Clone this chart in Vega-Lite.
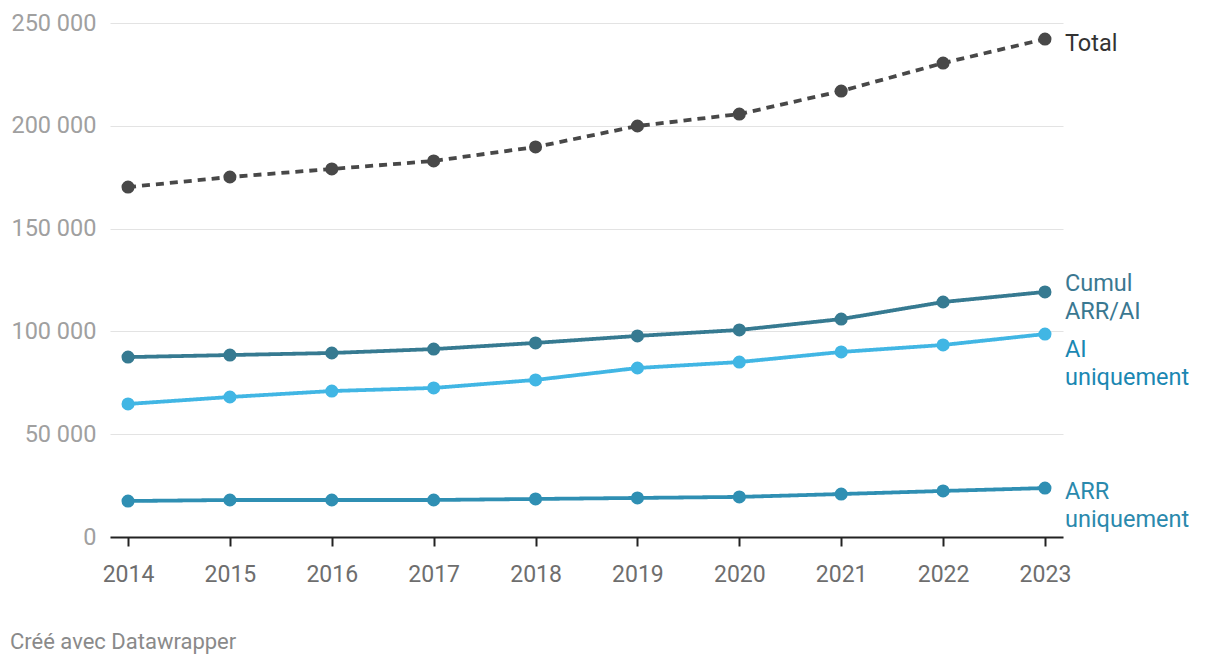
{
  "$schema": "https://vega.github.io/schema/vega-lite/v6.json",
  "width": 953,
  "height": 514,
  "autosize": "none",
  "padding": {"left": 110, "top": 23, "right": 157, "bottom": 127},
  "background": "white",
  "config": {
    "font": "Roboto",
    "view": {"stroke": null},
    "axis": {"labelFont": "Roboto"}
  },
  "title": {
    "text": "Créé avec Datawrapper",
    "orient": "bottom",
    "anchor": "start",
    "frame": "group",
    "dx": -100,
    "offset": 46,
    "fontSize": 22,
    "fontWeight": "normal",
    "color": "#8a8a8a",
    "font": "Roboto"
  },
  "datasets": {
    "series": [
      {"year": "2014", "serie": "Total", "value": 170200},
      {"year": "2015", "serie": "Total", "value": 175100},
      {"year": "2016", "serie": "Total", "value": 179000},
      {"year": "2017", "serie": "Total", "value": 182900},
      {"year": "2018", "serie": "Total", "value": 189700},
      {"year": "2019", "serie": "Total", "value": 199900},
      {"year": "2020", "serie": "Total", "value": 205700},
      {"year": "2021", "serie": "Total", "value": 216900},
      {"year": "2022", "serie": "Total", "value": 230500},
      {"year": "2023", "serie": "Total", "value": 242200},
      {"year": "2014", "serie": "Cumul ARR/AI", "value": 87500},
      {"year": "2015", "serie": "Cumul ARR/AI", "value": 88500},
      {"year": "2016", "serie": "Cumul ARR/AI", "value": 89500},
      {"year": "2017", "serie": "Cumul ARR/AI", "value": 91400},
      {"year": "2018", "serie": "Cumul ARR/AI", "value": 94400},
      {"year": "2019", "serie": "Cumul ARR/AI", "value": 97800},
      {"year": "2020", "serie": "Cumul ARR/AI", "value": 100700},
      {"year": "2021", "serie": "Cumul ARR/AI", "value": 106000},
      {"year": "2022", "serie": "Cumul ARR/AI", "value": 114300},
      {"year": "2023", "serie": "Cumul ARR/AI", "value": 119200},
      {"year": "2014", "serie": "AI uniquement", "value": 64700},
      {"year": "2015", "serie": "AI uniquement", "value": 68100},
      {"year": "2016", "serie": "AI uniquement", "value": 71000},
      {"year": "2017", "serie": "AI uniquement", "value": 72500},
      {"year": "2018", "serie": "AI uniquement", "value": 76400},
      {"year": "2019", "serie": "AI uniquement", "value": 82200},
      {"year": "2020", "serie": "AI uniquement", "value": 85100},
      {"year": "2021", "serie": "AI uniquement", "value": 90000},
      {"year": "2022", "serie": "AI uniquement", "value": 93400},
      {"year": "2023", "serie": "AI uniquement", "value": 98700},
      {"year": "2014", "serie": "ARR uniquement", "value": 17500},
      {"year": "2015", "serie": "ARR uniquement", "value": 18000},
      {"year": "2016", "serie": "ARR uniquement", "value": 18000},
      {"year": "2017", "serie": "ARR uniquement", "value": 18000},
      {"year": "2018", "serie": "ARR uniquement", "value": 18500},
      {"year": "2019", "serie": "ARR uniquement", "value": 19000},
      {"year": "2020", "serie": "ARR uniquement", "value": 19500},
      {"year": "2021", "serie": "ARR uniquement", "value": 20900},
      {"year": "2022", "serie": "ARR uniquement", "value": 22400},
      {"year": "2023", "serie": "ARR uniquement", "value": 23800}
    ],
    "labels": [
      {"year": "2023", "serie": "Total", "label": "Total", "pos": 239800},
      {"year": "2023", "serie": "Cumul ARR/AI", "label": "Cumul\nARR/AI", "pos": 123100},
      {"year": "2023", "serie": "AI uniquement", "label": "AI\nuniquement", "pos": 91000},
      {"year": "2023", "serie": "ARR uniquement", "label": "ARR\nuniquement", "pos": 21900}
    ]
  },
  "encoding": {
    "x": {
      "field": "year",
      "type": "ordinal",
      "scale": {"type": "point", "padding": 0.177},
      "axis": {
        "title": null,
        "labelAngle": 0,
        "labelFontSize": 23,
        "labelColor": "#6e6e6e",
        "labelPadding": 17,
        "domainColor": "#222222",
        "domainWidth": 2,
        "tickColor": "#222222",
        "tickWidth": 2,
        "tickSize": 9,
        "grid": false
      }
    },
    "y": {
      "type": "quantitative",
      "scale": {"domain": [0, 250000], "nice": false},
      "axis": {
        "title": null,
        "values": [0, 50000, 100000, 150000, 200000, 250000],
        "labelExpr": "replace(format(datum.value, ','), ',', ' ')",
        "labelFontSize": 23.5,
        "labelColor": "#a0a0a0",
        "labelPadding": 14,
        "domain": false,
        "ticks": false,
        "grid": true,
        "gridColor": "#e3e3e3",
        "gridWidth": 1
      }
    }
  },
  "layer": [
    {
      "data": {"name": "series"},
      "mark": {"type": "line", "strokeWidth": 3.8},
      "encoding": {
        "y": {"field": "value", "type": "quantitative"},
        "color": {
          "field": "serie",
          "type": "nominal",
          "scale": {
            "domain": ["Total", "Cumul ARR/AI", "AI uniquement", "ARR uniquement"],
            "range": ["#484848", "#367a91", "#41b6e4", "#2f8fb3"]
          },
          "legend": null
        },
        "strokeDash": {
          "field": "serie",
          "type": "nominal",
          "scale": {
            "domain": ["Total", "Cumul ARR/AI", "AI uniquement", "ARR uniquement"],
            "range": [[8, 6], [1, 0], [1, 0], [1, 0]]
          },
          "legend": null
        }
      }
    },
    {
      "data": {"name": "series"},
      "mark": {"type": "point", "filled": true, "opacity": 1, "size": 170},
      "encoding": {
        "y": {"field": "value", "type": "quantitative"},
        "color": {
          "field": "serie",
          "type": "nominal",
          "scale": {
            "domain": ["Total", "Cumul ARR/AI", "AI uniquement", "ARR uniquement"],
            "range": ["#484848", "#367a91", "#41b6e4", "#2f8fb3"]
          },
          "legend": null
        }
      }
    },
    {
      "data": {"name": "labels"},
      "mark": {
        "type": "text",
        "align": "left",
        "baseline": "middle",
        "dx": 20,
        "fontSize": 23.5,
        "lineBreak": "\n",
        "lineHeight": 28
      },
      "encoding": {
        "y": {"field": "pos", "type": "quantitative"},
        "text": {"field": "label"},
        "color": {
          "field": "serie",
          "type": "nominal",
          "scale": {
            "domain": ["Total", "Cumul ARR/AI", "AI uniquement", "ARR uniquement"],
            "range": ["#333333", "#3a7891", "#1a87b2", "#2a89ad"]
          },
          "legend": null
        }
      }
    }
  ],
  "resolve": {"scale": {"color": "independent"}}
}
